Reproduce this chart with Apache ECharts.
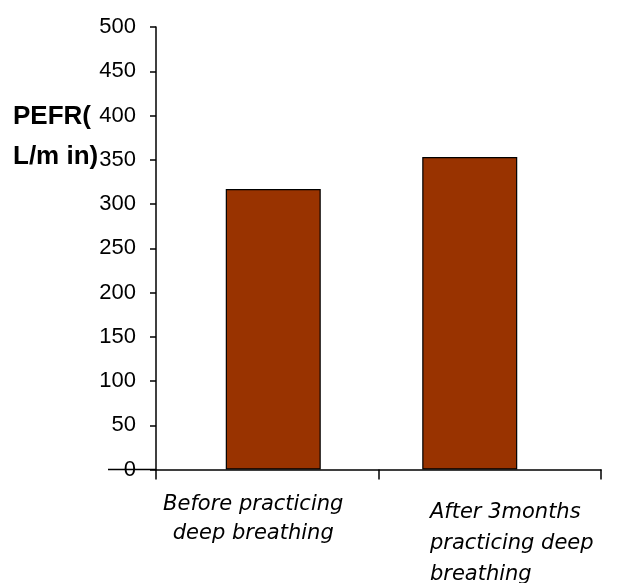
<!DOCTYPE html>
<html>
<head>
<meta charset="utf-8">
<script src="https://cdn.jsdelivr.net/npm/echarts@6/dist/echarts.min.js"></script>
<style>
  html, body { margin: 0; padding: 0; background: #ffffff; }
  #chart { width: 626px; height: 583px; }
</style>
</head>
<body>
<div id="chart"></div>
<script>
// Groups compared and their mean peak expiratory flow rate (L/min)
const categories = ['Before practicing\ndeep breathing', 'After 3months\npracticing deep\nbreathing'];
const pefrValues = [317, 353];
const yMin = 0;
const yMax = 500;
const yStep = 50;
const yTitle = 'PEFR(\nL/m in)';

const chart = echarts.init(document.getElementById('chart'), null, { renderer: 'canvas' });

// Category labels: first one centred, second one left-aligned line by line
const labelData = categories.map((c, i) => ({
  value: c,
  textStyle: i === 0 ? { padding: [0, 28, 0, 0] } : { padding: [7, 0, 0, 44] }
}));

chart.setOption({
  animation: false,
  backgroundColor: '#ffffff',
  title: {
    text: yTitle,
    left: 13,
    top: 97,
    padding: 0,
    textStyle: {
      fontFamily: 'Liberation Sans',
      fontWeight: 'bold',
      fontSize: 26,
      lineHeight: 40,
      color: '#000000'
    }
  },
  grid: [
    // frame carrying the visible axes
    { left: 156, right: 25, top: 27, bottom: 113.5, containLabel: false, outerBoundsMode: 'none' },
    // frame the bars are laid out in
    { left: 175, right: 58, top: 27, bottom: 113.5, containLabel: false, outerBoundsMode: 'none' }
  ],
  xAxis: [
    {
      type: 'category',
      gridIndex: 0,
      data: labelData,
      boundaryGap: true,
      axisLine: { show: true, lineStyle: { color: '#000000', width: 1.5 } },
      axisTick: { show: true, alignWithLabel: false, inside: false, length: 10, lineStyle: { color: '#000000', width: 1.5 } },
      axisLabel: {
        interval: 0,
        margin: 21,
        fontFamily: 'DejaVu Sans',
        fontStyle: 'italic',
        fontSize: 21,
        lineHeight: 29,
        color: '#000000',
        formatter: function (value, index) {
          if (index === 1) {
            return value.split('\n').map(s => '{l|' + s + '}').join('\n');
          }
          return value;
        },
        rich: {
          l: {
            align: 'left',
            fontFamily: 'DejaVu Sans',
            fontStyle: 'italic',
            fontSize: 21,
            lineHeight: 31,
            color: '#000000'
          }
        }
      },
      splitLine: { show: false }
    },
    {
      type: 'category',
      gridIndex: 1,
      data: categories,
      show: false
    }
  ],
  yAxis: [
    {
      type: 'value',
      gridIndex: 0,
      min: yMin,
      max: yMax,
      interval: yStep,
      axisLine: { show: true, lineStyle: { color: '#000000', width: 1.5 } },
      axisTick: { show: true, inside: false, length: 6, lineStyle: { color: '#000000', width: 1.5 } },
      axisLabel: {
        margin: 20,
        fontFamily: 'Liberation Sans',
        fontSize: 22,
        color: '#000000'
      },
      splitLine: { show: false }
    },
    {
      type: 'value',
      gridIndex: 1,
      min: yMin,
      max: yMax,
      interval: yStep,
      show: false
    }
  ],
  series: [
    {
      type: 'bar',
      xAxisIndex: 1,
      yAxisIndex: 1,
      data: pefrValues,
      barWidth: 95,
      itemStyle: {
        color: '#993300',
        borderColor: '#000000',
        borderWidth: 1.2
      }
    }
  ]
});

// Baseline continues to the left through the zero label
const y0 = chart.convertToPixel({ yAxisIndex: 0 }, 0);
const gridRect = chart.getModel().getComponent('grid', 0).coordinateSystem.getRect();
chart.setOption({
  graphic: [{
    type: 'line',
    shape: { x1: gridRect.x - 48, y1: y0, x2: gridRect.x, y2: y0 },
    style: { stroke: '#000000', lineWidth: 1.5 },
    z: 10
  }]
});
</script>
</body>
</html>
